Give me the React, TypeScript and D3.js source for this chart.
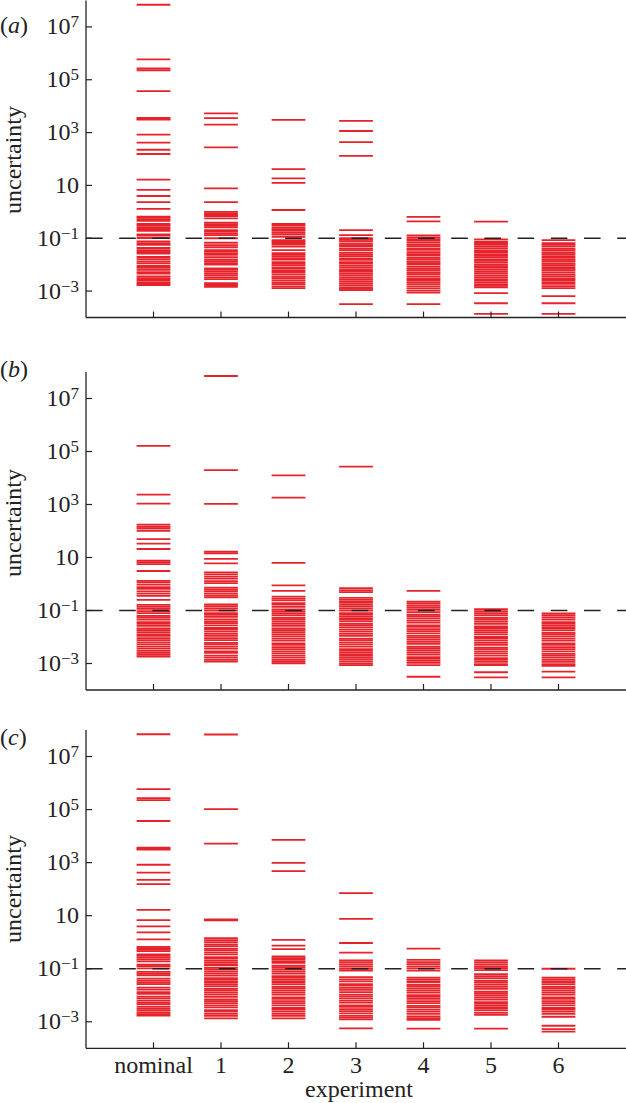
import * as d3 from 'd3';
import React from 'react';

// uncertainty values, stored as log10(uncertainty), one array per experiment
const categories = ['nominal', '1', '2', '3', '4', '5', '6'];
const tickExponents = [-3, -1, 1, 3, 5, 7];
const threshold = 0.1;

// panel (a)
const aNominal = [7.84, 5.77, 5.43, 5.36, 4.57, 3.56, 3.52, 3.49, 2.92, 2.62, 2.35, 2.19, 1.22, 0.83, 0.60, 0.37, 0.11,
  -0.18, -0.22, -0.28, -0.34, -0.46, -0.51, -0.58, -0.65, -0.72, -0.85, -0.90, -0.99, -1.12, -1.19, -1.25, -1.37, -1.45,
  -1.52, -1.58, -1.71, -1.79, -1.88, -1.95, -2.05, -2.12, -2.20, -2.28, -2.34, -2.44, -2.51, -2.58, -2.66, -2.72, -2.77];
const a1 = [3.73, 3.55, 3.30, 2.44, 0.89, 0.37, 0.00, -0.06, -0.12, -0.16, -0.25, -0.41, -0.47, -0.53, -0.59, -0.69, -0.75,
  -0.82, -0.88, -1.00, -1.17, -1.26, -1.34, -1.45, -1.51, -1.57, -1.63, -1.72, -1.81, -1.87, -1.94, -2.00, -2.14, -2.20,
  -2.26, -2.33, -2.40, -2.48, -2.55, -2.70, -2.77, -2.84];
const a2 = [3.48, 1.62, 1.27, 1.10, 0.07, -0.46, -0.52, -0.60, -0.66, -0.72, -0.80, -0.86, -0.95, -1.07, -1.12, -1.18, -1.24,
  -1.32, -1.45, -1.56, -1.62, -1.68, -1.75, -1.81, -1.90, -1.96, -2.02, -2.10, -2.16, -2.24, -2.30, -2.38, -2.46, -2.52,
  -2.60, -2.68, -2.74, -2.82, -2.89];
const a3 = [3.44, 3.06, 2.64, 2.12, -0.69, -0.88, -1.00, -1.06, -1.12, -1.20, -1.26, -1.32, -1.40, -1.46, -1.55, -1.62, -1.68,
  -1.76, -1.82, -1.90, -1.96, -2.04, -2.10, -2.18, -2.24, -2.32, -2.40, -2.48, -2.55, -2.62, -2.70, -2.78, -2.86, -2.92,
  -2.96, -3.49];
const a4 = [-0.19, -0.36, -0.89, -0.97, -1.03, -1.09, -1.16, -1.24, -1.30, -1.38, -1.44, -1.53, -1.60, -1.66, -1.74, -1.80,
  -1.88, -1.94, -2.00, -2.08, -2.16, -2.22, -2.30, -2.36, -2.44, -2.52, -2.58, -2.66, -2.74, -2.82, -2.90, -2.98, -3.06,
  -3.49];
const a5 = [-0.37, -1.04, -1.13, -1.18, -1.25, -1.32, -1.38, -1.46, -1.52, -1.60, -1.66, -1.72, -1.80, -1.86, -1.92, -2.00,
  -2.06, -2.12, -2.20, -2.27, -2.34, -2.42, -2.50, -2.58, -2.66, -2.74, -2.80, -2.86, -3.08, -3.46, -3.86];
const a6 = [-1.07, -1.19, -1.25, -1.32, -1.40, -1.46, -1.54, -1.60, -1.68, -1.74, -1.82, -1.88, -1.96, -2.02, -2.09, -2.16,
  -2.22, -2.30, -2.38, -2.44, -2.52, -2.58, -2.66, -2.73, -2.81, -2.89, -3.19, -3.46, -3.86];

// panel (b)
const bNominal = [5.21, 3.37, 3.03, 2.24, 2.16, 2.10, 2.01, 1.69, 1.52, 1.32, 0.88, 0.82, 0.75, 0.49, 0.12, 0.06, -0.02,
  -0.12, -0.18, -0.28, -0.36, -0.45, -0.60, -0.79, -0.86, -0.94, -1.02, -1.10, -1.20, -1.26, -1.34, -1.44, -1.50, -1.58,
  -1.68, -1.74, -1.82, -1.90, -1.96, -2.04, -2.12, -2.20, -2.28, -2.36, -2.44, -2.52, -2.60, -2.67, -2.74];
const b1 = [7.85, 4.30, 3.02, 1.22, 1.16, 0.95, 0.78, 0.44, 0.36, 0.28, 0.20, 0.11, 0.03, -0.14, -0.20, -0.27, -0.35, -0.43,
  -0.50, -0.77, -0.84, -0.92, -1.00, -1.10, -1.16, -1.24, -1.34, -1.42, -1.48, -1.56, -1.66, -1.72, -1.80, -1.88, -1.96,
  -2.04, -2.12, -2.22, -2.28, -2.36, -2.44, -2.54, -2.60, -2.70, -2.78, -2.86, -2.93];
const b2 = [4.10, 3.26, 0.80, -0.05, -0.26, -0.48, -0.55, -0.62, -0.72, -0.78, -0.86, -0.96, -1.02, -1.10, -1.18, -1.28,
  -1.34, -1.42, -1.50, -1.58, -1.68, -1.74, -1.82, -1.90, -1.98, -2.06, -2.14, -2.24, -2.30, -2.38, -2.46, -2.54, -2.62,
  -2.70, -2.78, -2.86, -2.93, -2.99];
const b3 = [4.43, -0.16, -0.24, -0.31, -0.52, -0.60, -0.68, -0.76, -0.84, -0.92, -1.00, -1.10, -1.16, -1.24, -1.32, -1.40,
  -1.50, -1.56, -1.64, -1.72, -1.80, -1.88, -1.96, -2.06, -2.12, -2.20, -2.28, -2.36, -2.46, -2.52, -2.60, -2.68, -2.76,
  -2.84, -2.92, -3.00, -3.06];
const b4 = [-0.26, -0.67, -0.74, -0.82, -0.90, -0.98, -1.06, -1.16, -1.22, -1.30, -1.38, -1.46, -1.56, -1.62, -1.70, -1.78,
  -1.86, -1.96, -2.02, -2.10, -2.18, -2.26, -2.36, -2.42, -2.50, -2.58, -2.66, -2.76, -2.82, -2.90, -2.98, -3.06, -3.50];
const b5 = [-0.95, -1.02, -1.10, -1.18, -1.28, -1.34, -1.42, -1.50, -1.60, -1.66, -1.74, -1.82, -1.90, -2.00, -2.06, -2.14,
  -2.22, -2.30, -2.40, -2.46, -2.54, -2.62, -2.70, -2.80, -2.86, -2.94, -3.02, -3.06, -3.33, -3.52];
const b6 = [-1.11, -1.18, -1.26, -1.34, -1.44, -1.50, -1.58, -1.66, -1.74, -1.84, -1.90, -1.98, -2.06, -2.14, -2.24, -2.30,
  -2.38, -2.46, -2.54, -2.64, -2.70, -2.78, -2.86, -2.94, -3.02, -3.09, -3.31, -3.52];

// panel (c) -- nominal is the same run as in (a)
const cNominal = aNominal;
const c1 = [7.83, 5.02, 3.72, 0.86, 0.84, 0.82, 0.15, 0.08, 0.00, -0.08, -0.15, -0.24, -0.30, -0.38, -0.46, -0.56, -0.62,
  -0.70, -0.78, -0.86, -0.96, -1.02, -1.10, -1.18, -1.26, -1.36, -1.42, -1.50, -1.58, -1.66, -1.76, -1.82, -1.90, -1.98,
  -2.06, -2.16, -2.22, -2.30, -2.38, -2.46, -2.56, -2.62, -2.70, -2.78, -2.87];
const c2 = [3.86, 2.99, 2.68, 0.09, -0.13, -0.26, -0.54, -0.60, -0.66, -0.72, -0.78, -0.88, -0.94, -1.02, -1.10, -1.18,
  -1.28, -1.34, -1.42, -1.50, -1.58, -1.68, -1.74, -1.82, -1.90, -1.98, -2.08, -2.14, -2.22, -2.30, -2.38, -2.48, -2.54,
  -2.62, -2.70, -2.78, -2.87];
const c3 = [1.85, 0.88, -0.03, -0.39, -0.69, -0.76, -0.84, -0.92, -1.00, -1.07, -1.32, -1.40, -1.48, -1.58, -1.64, -1.72,
  -1.80, -1.88, -1.98, -2.04, -2.12, -2.20, -2.28, -2.38, -2.44, -2.52, -2.60, -2.68, -2.78, -2.84, -2.91, -3.25];
const c4 = [-0.24, -0.67, -0.75, -0.83, -0.91, -0.99, -1.07, -1.34, -1.42, -1.50, -1.60, -1.66, -1.74, -1.82, -1.90, -2.00,
  -2.06, -2.14, -2.22, -2.30, -2.40, -2.46, -2.54, -2.62, -2.70, -2.80, -2.86, -2.93, -3.26];
const c5 = [-0.69, -0.76, -0.84, -0.92, -0.98, -1.05, -1.20, -1.28, -1.36, -1.46, -1.52, -1.60, -1.68, -1.76, -1.86, -1.92,
  -2.00, -2.08, -2.16, -2.26, -2.32, -2.40, -2.48, -2.56, -2.66, -2.74, -3.26];
const c6 = [-1.00, -1.34, -1.42, -1.50, -1.58, -1.68, -1.74, -1.82, -1.90, -1.98, -2.08, -2.14, -2.22, -2.30, -2.38, -2.48,
  -2.54, -2.62, -2.70, -2.81, -3.15, -3.28, -3.37];

const panels = [
  { label: 'a', top: 0.5, bottom: 317.5, labelY: 33, titleY: 160, runs: [aNominal, a1, a2, a3, a4, a5, a6] },
  { label: 'b', top: 372, bottom: 690, labelY: 377, titleY: 523, runs: [bNominal, b1, b2, b3, b4, b5, b6] },
  { label: 'c', top: 730, bottom: 1048.3, labelY: 745, titleY: 889, runs: [cNominal, c1, c2, c3, c4, c5, c6] },
];

const params = {
  width: 626,
  height: 1103,
  axisLeft: 86,
  axisRight: 626,
  tickLen: 6,
  halfBar: 0.25,
};

const serif = '"Liberation Serif", "Times New Roman", serif';
const red = '#e6222b';
const ink = '#222';

const x = d3.scaleLinear().domain([0, 8]).range([params.axisLeft, params.axisRight]);

const Panel = ({ panel }) => {
  const y = d3.scaleLog().domain([1e-4, 1e8]).range([panel.bottom, panel.top]);
  return (
    <g>
      {/* red uncertainty lines */}
      {panel.runs.map((run, i) => (
        <g key={i}>
          {run.map((e, j) => (
            <line key={j}
              x1={x(i + 1 - params.halfBar)} x2={x(i + 1 + params.halfBar)}
              y1={y(Math.pow(10, e))} y2={y(Math.pow(10, e))}
              stroke={red} strokeWidth={1.8} />
          ))}
        </g>
      ))}
      {/* threshold */}
      <line x1={params.axisLeft} x2={params.axisRight} y1={y(threshold)} y2={y(threshold)}
        stroke={ink} strokeWidth={1.4} strokeDasharray="16.6,16.6" />
      {/* axes */}
      <line x1={params.axisLeft} x2={params.axisLeft} y1={panel.top} y2={panel.bottom} stroke={ink} strokeWidth={1.3} />
      <line x1={params.axisLeft} x2={params.axisRight} y1={panel.bottom} y2={panel.bottom} stroke={ink} strokeWidth={1.3} />
      {categories.map((c, i) => (
        <line key={c} x1={x(i + 1)} x2={x(i + 1)} y1={panel.bottom} y2={panel.bottom - params.tickLen}
          stroke={ink} strokeWidth={1.2} />
      ))}
      {tickExponents.map(t => (
        <g key={t}>
          <line x1={params.axisLeft} x2={params.axisLeft + params.tickLen} y1={y(Math.pow(10, t))} y2={y(Math.pow(10, t))}
            stroke={ink} strokeWidth={1.2} />
          <text x={79} y={y(Math.pow(10, t)) + 7.5} textAnchor="end" fontFamily={serif} fontSize={24} fill={ink}>
            {t === 1 ? '10' : (
              <>
                <tspan>10</tspan>
                <tspan dy={-7} fontSize={17}>{t < 0 ? '\u2212' + Math.abs(t) : t}</tspan>
              </>
            )}
          </text>
        </g>
      ))}
      <text transform={`translate(21,${panel.titleY}) rotate(-90)`} textAnchor="middle"
        fontFamily={serif} fontSize={24} fill={ink}>uncertainty</text>
      <text x={0} y={panel.labelY} fontFamily={serif} fontSize={24} fill={ink}>
        (<tspan fontStyle="italic">{panel.label}</tspan>)
      </text>
    </g>
  );
};

export default function App() {
  const last = panels[panels.length - 1];
  return (
    <div style={{ position: 'absolute', left: 0, top: 0 }}>
      <svg width={params.width} height={params.height} style={{ display: 'block', background: '#fff' }}>
        {panels.map(p => <Panel key={p.label} panel={p} />)}
        {categories.map((c, i) => (
          <text key={c} x={x(i + 1)} y={1073} textAnchor="middle" fontFamily={serif} fontSize={24} fill={ink}>{c}</text>
        ))}
        <text x={(params.axisLeft + params.axisRight) / 2 + 3} y={last.bottom + 49} textAnchor="middle"
          fontFamily={serif} fontSize={24} fill={ink}>experiment</text>
      </svg>
    </div>
  );
}
